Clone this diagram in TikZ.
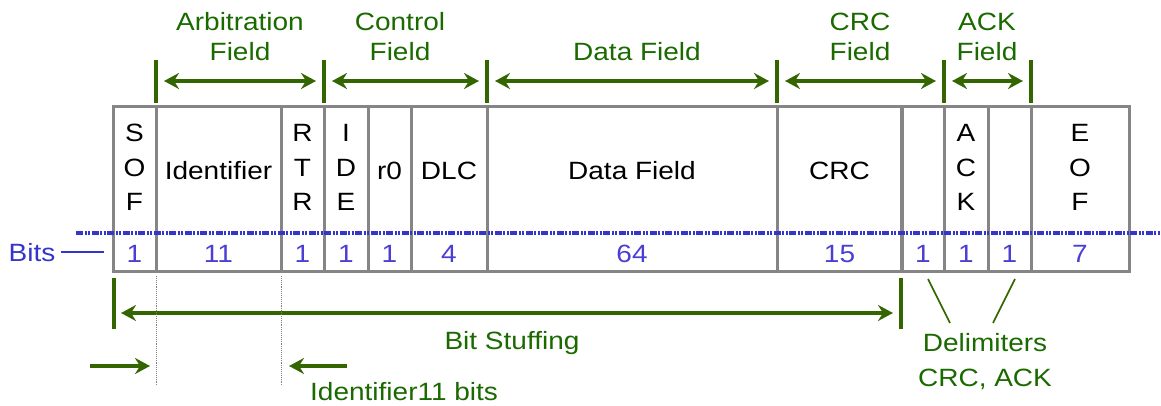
\documentclass[tikz,border=0pt]{standalone}
\usepackage{fontspec}
\setmainfont{Liberation Sans}[FakeStretch=1.12]
\usetikzlibrary{arrows.meta}

\definecolor{framegray}{HTML}{858585}
\definecolor{arrowgreen}{HTML}{336600}
\definecolor{textgreen}{HTML}{1A6A00}
\definecolor{bitblue}{HTML}{3535CC}
\definecolor{numblue}{HTML}{4A3FD2}

\tikzset{
  cell/.style={draw=framegray, line width=3pt, inner sep=0pt, outer sep=0pt,
               minimum height=164pt, anchor=north west},
  txt/.style={font=\fontsize{25}{30}\selectfont, inner sep=0pt,
              text height=18pt, text depth=0pt},
  celltext/.style={txt, text=black},
  numtext/.style={txt, text=numblue},
  greentext/.style={txt, text=textgreen},
  fieldbar/.style={draw=arrowgreen, line width=4pt},
  spanarrow/.style={draw=arrowgreen, line width=4pt,
                    {Stealth[length=15pt,width=16pt,inset=5pt]}-{Stealth[length=15pt,width=16pt,inset=5pt]}},
  onearrow/.style={draw=arrowgreen, line width=4pt,
                   -{Stealth[length=15pt,width=16pt,inset=5pt]}},
  bitsline/.style={draw=bitblue, line width=3.5pt,
                   dash pattern=on 7pt off 1.5pt on 2pt off 1.5pt on 2pt off 1.5pt},
  guide/.style={draw=gray, line width=0.9pt, densely dotted},
  tick/.style={draw=arrowgreen, line width=1.6pt},
}

\begin{document}
\begin{tikzpicture}[x=1pt, y=-1pt]
\useasboundingbox (0,0) rectangle (1161,406);

% frame cells: left/right boundaries and name
\foreach \a/\b/\n in {113/156/sof, 156/281/ident, 281/324/rtr, 324/368/ide,
                      368/411/rzero, 411/487/dlc, 487/777/data, 777/902/crc,
                      902/944/crcdel, 944/988/ack, 988/1031/ackdel, 1031/1129/eof}
  \node[cell, minimum width={\b-\a}] (\n) at (\a,107) {};
% heavier separator before the delimiter bits
\draw[draw=framegray, line width=4.5pt] (crcdel.north west) -- (crcdel.south west);

% dash-dotted bit-count separator
\coordinate (bitsL) at (76,233);
\coordinate (bitsR) at (1161,233);
\draw[bitsline] (bitsL) -- (bitsR);

% field names inside the frame
\foreach \c/\l [count=\i] in {sof/S, sof/O, sof/F, rtr/R, rtr/T, rtr/R,
                              ide/I, ide/D, ide/E, ack/A, ack/C, ack/K,
                              eof/E, eof/O, eof/F} {
  \pgfmathtruncatemacro{\row}{mod(\i-1,3)}
  \node[celltext] (stack\i) at (\c.north) [yshift={-(26pt+\row*34.5pt)}] {\l};
}
\node[celltext] (identtxt) at (ident.north |- 0,170) {Identifier};
\node[celltext] (r0txt) at (rzero.north |- 0,170) {r0};
\node[celltext] (dlctxt) at (dlc.north |- 0,170) {DLC};
\node[celltext] (datatxt) at (data.north |- 0,171) {Data Field};
\node[celltext] (crctxt) at (crc.north |- 0,171) {CRC};

% bit counts
\foreach \c/\v in {sof/1, ident/11, rtr/1, ide/1, rzero/1, dlc/4, data/64,
                   crc/15, crcdel/1, ack/1, ackdel/1, eof/7}
  \node[numtext] (n\c) at (\c.north |- 0,253) {\v};

% "Bits" label with leader
\node[txt, text=bitblue] (bitslbl) at (32,252) {Bits};
\coordinate (leadL) at (61,252);
\coordinate (leadR) at (104,252);
\draw[draw=bitblue, line width=2pt] (leadL) -- (leadR);

% top field brackets
\foreach \x/\n in {156/fa, 324/fb, 487/fc, 777/fd, 944/fe, 1031/ff}
  \coordinate (\n) at (\x,81);
\foreach \n in {fa, fb, fc, fd, fe, ff}
  \draw[fieldbar] ([yshift=21pt]\n) -- ([yshift=-22pt]\n);
\foreach \p/\q in {fa/fb, fb/fc, fc/fd, fd/fe, fe/ff}
  \draw[spanarrow] ([xshift=8pt]\p) -- ([xshift=-8pt]\q);

\node[greentext] (arbA) at (240,22) {Arbitration};
\node[greentext] (arbB) at (240,52) {Field};
\node[greentext] (ctlA) at (400,22) {Control};
\node[greentext] (ctlB) at (400,52) {Field};
\node[greentext] (datB) at (637,52) {Data Field};
\node[greentext] (crcA) at (860,22) {CRC};
\node[greentext] (crcB) at (860,52) {Field};
\node[greentext] (ackA) at (987,22) {ACK};
\node[greentext] (ackB) at (987,52) {Field};

% bit stuffing span
\coordinate (bsL) at (114,313);
\coordinate (bsR) at (901,313);
\draw[fieldbar] ([yshift=35pt]bsL) -- ([yshift=-16pt]bsL);
\draw[fieldbar] ([yshift=35pt]bsR) -- ([yshift=-16pt]bsR);
\draw[spanarrow] ([xshift=7pt]bsL) -- ([xshift=-8pt]bsR);
\node[greentext] (bstxt) at (512,340) {Bit Stuffing};

% identifier extent guides
\coordinate (gA) at (156,276);
\coordinate (gB) at (281,276);
\draw[guide] (gA) -- ++(0,109);
\draw[guide] (gB) -- ++(0,109);
\coordinate (inL) at (90,366);
\coordinate (inR) at (347,366);
\draw[onearrow] (inL) -- ([xshift=-6pt]gA |- inL);
\draw[onearrow] (inR) -- ([xshift=8pt]gB |- inR);
\node[greentext, anchor=west] (idtxt) at (310,391) {Identifier11 bits};

% delimiter callouts
\coordinate (dA1) at (928,279);
\coordinate (dA2) at (950,323);
\coordinate (dB1) at (1015,279);
\coordinate (dB2) at (993,323);
\draw[tick] (dA1) -- (dA2);
\draw[tick] (dB1) -- (dB2);
\node[greentext] (delA) at (985,342) {Delimiters};
\node[greentext] (delB) at (985,377) {CRC, ACK};
\end{tikzpicture}
\end{document}
